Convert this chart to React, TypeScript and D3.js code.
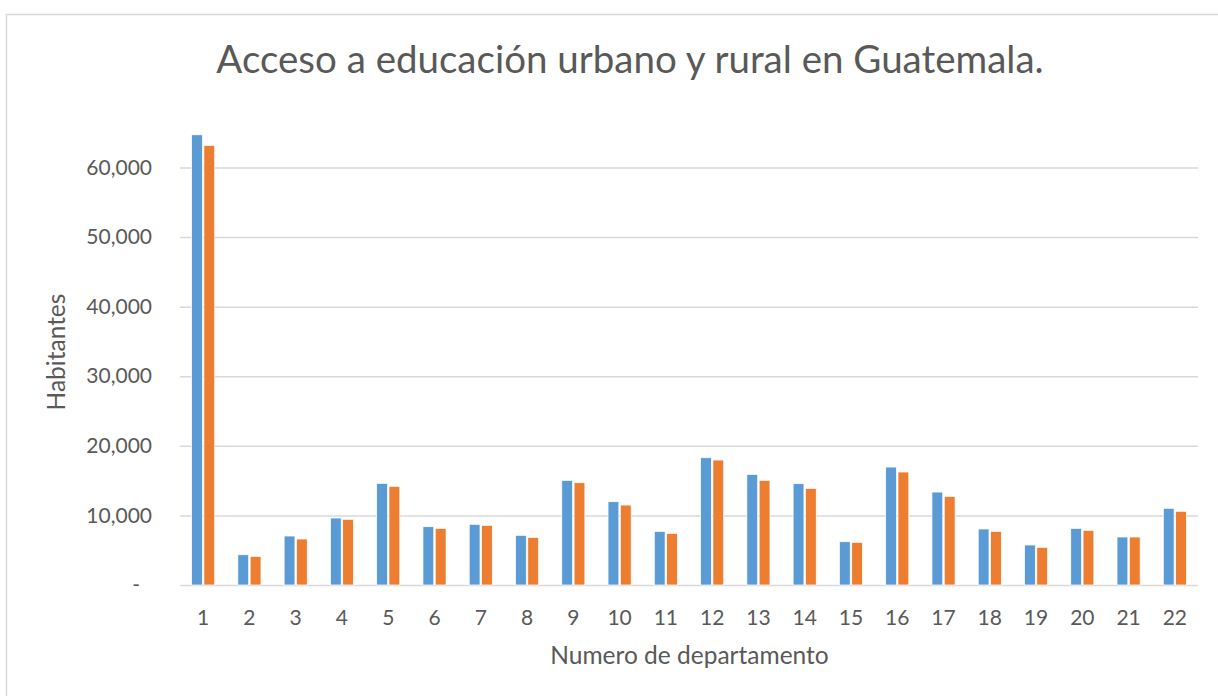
import React, {useEffect, useRef} from 'react';
import * as d3 from 'd3';

// valores
const departamentos = ['1', '2', '3', '4', '5', '6', '7', '8', '9', '10', '11',
    '12', '13', '14', '15', '16', '17', '18', '19', '20', '21', '22'];
const urbano = [64700, 4350, 7040, 9630, 14610, 8380, 8720, 7140, 15040, 11970, 7710,
    18290, 15900, 14560, 6220, 16950, 13360, 8050, 5750, 8140, 6900, 11020];
const rural = [63180, 4120, 6610, 9440, 14180, 8140, 8580, 6850, 14700, 11490, 7420,
    17960, 15040, 13890, 6130, 16240, 12740, 7710, 5410, 7860, 6900, 10590];
const series = ['Urbano', 'Rural'];
const yTicks = [0, 10000, 20000, 30000, 40000, 50000, 60000];

const colors = ['#5B9BD5', '#ED7D31'];
const textColor = '#595959';
const gridColor = '#D9D9D9';
const font = 'Lato, "Open Sans", sans-serif';

const App = () => {
    const svgRef = useRef<SVGSVGElement>(null);
    const width = 1218;
    const height = 696;
    const left = 180, right = 1198, top = 167.5, bottom = 585;

    useEffect(() => {
        const svg = d3.select(svgRef.current);
        svg.selectAll('*').remove();

        const data = departamentos.map((d, i) => ({label: d, values: [urbano[i], rural[i]]}));

        const x0 = d3.scaleBand()
            .domain(departamentos)
            .range([left, right])
            .paddingInner(0.5)
            .paddingOuter(0.25);

        const x1 = d3.scaleBand()
            .domain(series)
            .range([0, x0.bandwidth()])
            .paddingInner(0.12);

        const y = d3.scaleLinear()
            .domain([0, 60000])
            .range([bottom, top]);

        // marco del area del grafico
        svg.append('rect')
            .attr('x', 6.5)
            .attr('y', 14.5)
            .attr('width', width)
            .attr('height', height)
            .attr('fill', 'white')
            .attr('stroke', gridColor)
            .attr('stroke-width', 1.5);

        // Titulo
        svg.append('text')
            .attr('x', 630)
            .attr('y', 73)
            .attr('text-anchor', 'middle')
            .attr('font-family', font)
            .attr('font-size', 38.5)
            .attr('fill', textColor)
            .text('Acceso a educación urbano y rural en Guatemala.');

        // eje y con lineas de cuadricula
        const yAxis = d3.axisLeft(y)
            .tickValues(yTicks)
            .tickSize(-(right - left))
            .tickPadding(28)
            .tickFormat(d => (+d === 0 ? '-' : d3.format(',')(+d)));

        const gy = svg.append('g')
            .attr('transform', `translate(${left}, 0)`)
            .call(yAxis);
        gy.select('.domain').remove();
        gy.selectAll('.tick line')
            .attr('stroke', gridColor)
            .attr('stroke-width', 1.5);
        gy.selectAll('.tick text')
            .attr('font-family', font)
            .attr('font-size', 21)
            .attr('fill', textColor)
            .attr('dx', d => (+d === 0 ? -12 : 0));

        // barras
        const groups = svg.append('g')
            .selectAll('g')
            .data(data)
            .enter()
            .append('g')
            .attr('transform', d => `translate(${x0(d.label)}, 0)`);

        groups.selectAll('rect')
            .data(d => d.values.map((v, i) => ({key: series[i], value: v, i})))
            .enter()
            .append('rect')
            .attr('x', d => x1(d.key))
            .attr('y', d => y(d.value))
            .attr('width', x1.bandwidth())
            .attr('height', d => bottom - y(d.value))
            .attr('fill', d => colors[d.i])
            .attr('stroke', 'white')
            .attr('stroke-width', 0.75);

        // eje x
        const xAxis = d3.axisBottom(x0).tickSize(0).tickPadding(25);
        const gx = svg.append('g')
            .attr('transform', `translate(0, ${bottom})`)
            .call(xAxis);
        gx.select('.domain').remove();
        gx.selectAll('.tick text')
            .attr('font-family', font)
            .attr('font-size', 21)
            .attr('fill', textColor);

        // titulos de ejes
        svg.append('text')
            .attr('x', 689.5)
            .attr('y', 663.5)
            .attr('text-anchor', 'middle')
            .attr('font-family', font)
            .attr('font-size', 24.5)
            .attr('fill', textColor)
            .text('Numero de departamento');

        svg.append('text')
            .attr('transform', 'translate(65, 352) rotate(-90)')
            .attr('text-anchor', 'middle')
            .attr('font-family', font)
            .attr('font-size', 24.5)
            .attr('fill', textColor)
            .text('Habitantes');
    }, []);

    return (
        <svg ref={svgRef} width={width} height={height}
             style={{position: 'absolute', left: 0, top: 0, display: 'block', background: 'white'}}></svg>
    );
};

export default App;
